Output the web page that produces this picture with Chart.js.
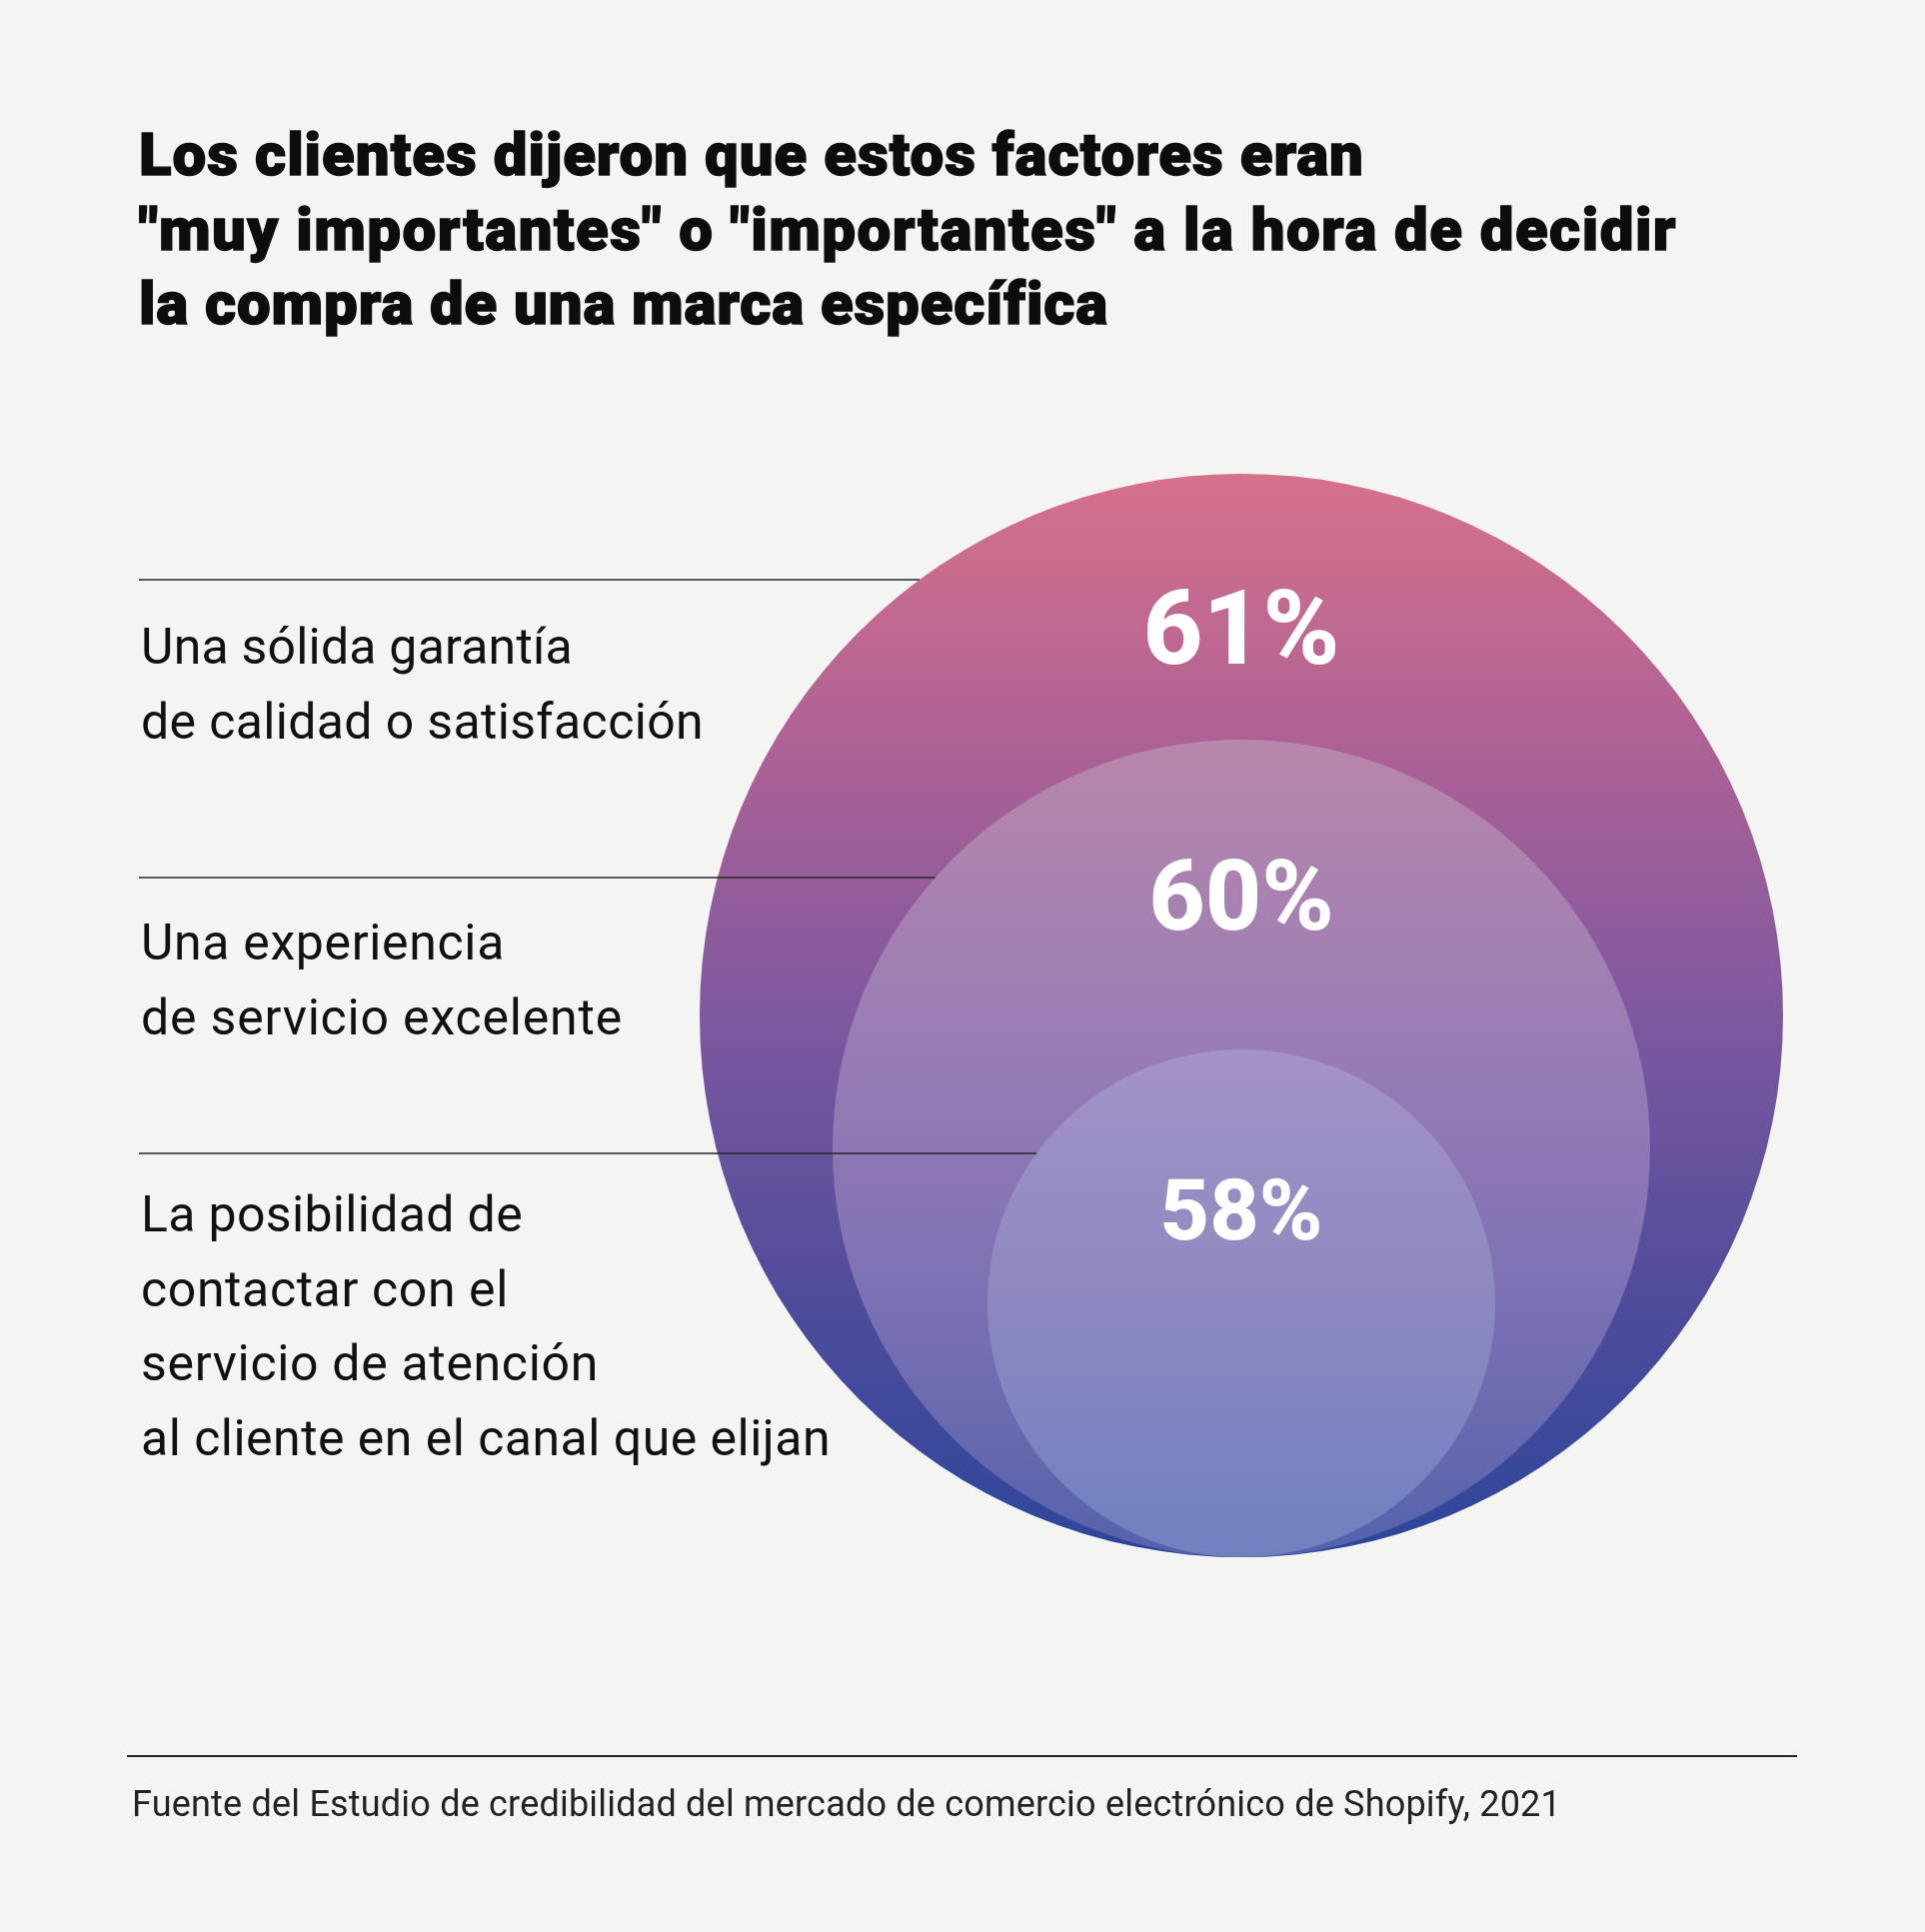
<!DOCTYPE html>
<html lang="es">
<head>
<meta charset="utf-8">
<script src="https://cdn.jsdelivr.net/npm/chart.js@4.4.1/dist/chart.umd.min.js"></script>
<style>
  html, body { margin: 0; padding: 0; background: #f4f4f2; }
  #page { position: relative; width: 1926px; height: 1933px; overflow: hidden; font-family: Roboto, "Noto Sans", sans-serif; color: #0d0d0d; }
  #chart { position: absolute; left: 0; top: 0; }
  .title { position: absolute; left: 139px; top: 118px; font-size: 60px; font-weight: 900; line-height: 74.5px; -webkit-text-stroke: 1.4px #0d0d0d; }
  .blk { position: absolute; left: 141px; font-size: 50px; font-weight: 400; line-height: 74.7px; color: #111; }
  .ln { display: inline-block; white-space: nowrap; }
  .rule { position: absolute; left: 127px; width: 1671px; top: 1756px; height: 2px; background: #222; }
  .foot { position: absolute; left: 132px; top: 1785px; font-size: 36px; line-height: 40px; color: #222; }
</style>
</head>
<body>
<div id="page">
  <div class="title">
    <span class="ln" data-w="1226">Los clientes dijeron que estos factores eran</span><br>
    <span class="ln" data-w="1539">"muy importantes" o "importantes" a la hora de decidir</span><br>
    <span class="ln" data-w="970">la compra de una marca específica</span>
  </div>
  <div id="labels"></div>
  <canvas id="chart" width="1926" height="1933"></canvas>
  <div class="rule"></div>
  <div class="foot"><span class="ln" data-w="1430">Fuente del Estudio de credibilidad del mercado de comercio electrónico de Shopify, 2021</span></div>
</div>
<script>
// datos
const categories = [
  "Una sólida garantía de calidad o satisfacción",
  "Una experiencia de servicio excelente",
  "La posibilidad de contactar con el servicio de atención al cliente en el canal que elijan"
];
const labelLines = [
  ["Una sólida garantía", "de calidad o satisfacción"],
  ["Una experiencia", "de servicio excelente"],
  ["La posibilidad de", "contactar con el", "servicio de atención", "al cliente en el canal que elijan"]
];
const values = [61, 60, 58];

// estilos / maquetación
const labelTops = [610, 906, 1178];
const labelWidths = [[432, 563], [364, 482], [382, 368, 458, 690]];
const radii = [542, 409, 254];
const ruleY = [580, 878, 1154];
const pctFont = [104, 98, 86];
const pctOffset = 190;
const gradStops = [
  [[0, "#d6718b"], [0.25, "#ae6195"], [0.5, "#7e58a0"], [0.75, "#514c9b"], [1, "#2c469b"]],
  [[0, "#b887ab"], [0.35, "#9b7db4"], [0.65, "#8072b5"], [1, "#5462ab"]],
  [[0, "#a493c7"], [0.5, "#8d88c0"], [1, "#6f80c1"]]
];

// etiquetas de la izquierda
const labelsBox = document.getElementById("labels");
labelLines.forEach((lines, i) => {
  const blk = document.createElement("div");
  blk.className = "blk";
  blk.style.top = labelTops[i] + "px";
  lines.forEach((t, j) => {
    const s = document.createElement("span");
    s.className = "ln";
    s.dataset.w = labelWidths[i][j];
    s.textContent = t;
    blk.appendChild(s);
    if (j < lines.length - 1) blk.appendChild(document.createElement("br"));
  });
  labelsBox.appendChild(blk);
});

// ajustar el ancho del texto
function fitText() {
  document.querySelectorAll(".ln[data-w]").forEach(el => {
    el.style.letterSpacing = "0px";
    const w = el.getBoundingClientRect().width;
    const n = el.textContent.length;
    el.style.letterSpacing = ((+el.dataset.w - w) / n) + "px";
  });
}

const overlay = {
  id: "overlay",
  afterDatasetsDraw(chart) {
    const c = chart.ctx;
    const pts = chart.getDatasetMeta(0).data;
    c.save();
    // líneas separadoras hasta el borde de cada círculo
    c.strokeStyle = "#262626";
    c.lineWidth = 1.6;
    pts.forEach((p, i) => {
      const r = radii[i];
      const y = ruleY[i];
      const dx = Math.sqrt(Math.max(0, r * r - (y - p.y) * (y - p.y)));
      c.beginPath();
      c.moveTo(139, y);
      c.lineTo(p.x - dx, y);
      c.stroke();
    });
    // porcentajes
    c.fillStyle = "#ffffff";
    c.textAlign = "center";
    c.textBaseline = "alphabetic";
    pts.forEach((p, i) => {
      c.font = "800 " + pctFont[i] + "px Roboto";
      c.fillText(values[i] + "%", p.x, p.y - radii[i] + pctOffset);
    });
    c.restore();
  }
};

function circleFill(ctx) {
  const chart = ctx.chart;
  const i = ctx.dataIndex;
  const ys = chart.scales.y;
  const stops = gradStops[i];
  if (!ys) return stops[0][1];
  const cy = ys.getPixelForValue(radii[i]);
  if (!isFinite(cy)) return stops[0][1];
  const g = chart.ctx.createLinearGradient(0, cy - radii[i], 0, cy + radii[i]);
  stops.forEach(s => g.addColorStop(s[0], s[1]));
  return g;
}

document.fonts.ready.then(() => {
  fitText();
  new Chart(document.getElementById("chart"), {
    type: "bubble",
    data: {
      labels: categories,
      datasets: [{
        label: "Clientes",
        data: values.map((v, i) => ({ x: 0, y: radii[i], v: v })),
        radius: (ctx) => radii[ctx.dataIndex],
        backgroundColor: circleFill,
        borderWidth: 0,
        clip: false
      }]
    },
    options: {
      responsive: false,
      devicePixelRatio: 1,
      animation: false,
      events: [],
      layout: { padding: 0, autoPadding: false },
      plugins: {
        legend: { display: false },
        tooltip: { enabled: false }
      },
      scales: {
        x: { type: "linear", display: false, min: -1242, max: 684 },
        y: { type: "linear", display: false, min: -375, max: 1558 }
      }
    },
    plugins: [overlay]
  });
});
</script>
</body>
</html>
